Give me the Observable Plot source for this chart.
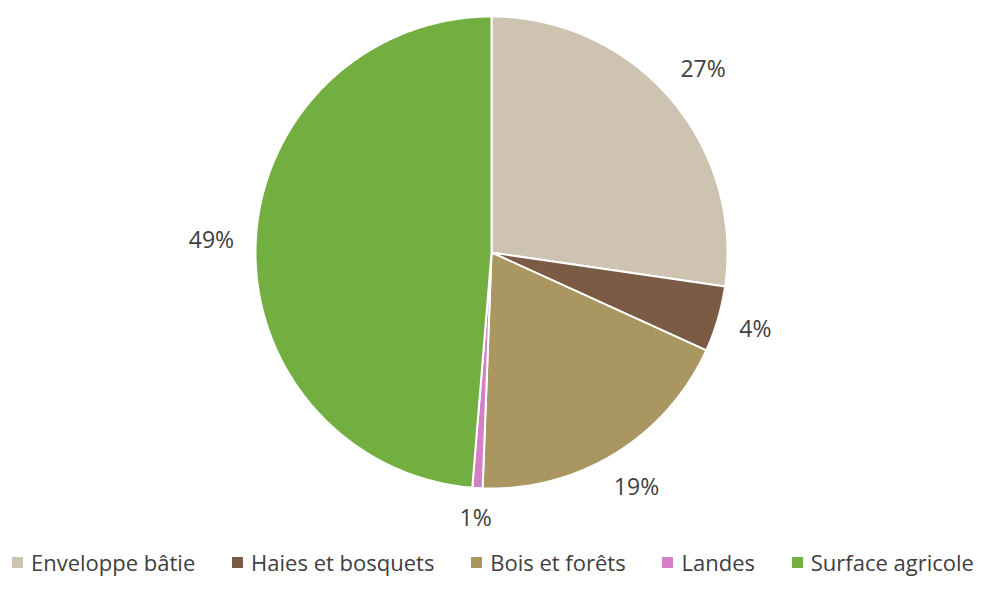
<!DOCTYPE html>
<html>
<head>
<meta charset="utf-8">
<script src="https://cdn.jsdelivr.net/npm/d3@7"></script>
<script src="https://cdn.jsdelivr.net/npm/@observablehq/plot@0.6"></script>
<style>
  html, body { margin: 0; padding: 0; background: #fff; }
  body { width: 982px; height: 589px; position: relative; overflow: hidden; font-family: "Open Sans", sans-serif; }
  #chart { position: absolute; left: 0; top: 0; }
  #legend { position: absolute; left: 12px; width: 962px; top: 546px; height: 32px; display: flex; justify-content: space-between; align-items: center; color: #404040; font-size: 22px; white-space: nowrap; }
  .item { display: flex; align-items: center; }
  .sw { width: 11px; height: 11px; margin-right: 8px; }
</style>
</head>
<body>
<div id="chart"></div>
<div id="legend"></div>
<script>
const categories = ["Enveloppe bâtie", "Haies et bosquets", "Bois et forêts", "Landes", "Surface agricole"];
const values = [27.3, 4.5, 18.8, 0.7, 48.7];
const labels = ["27%", "4%", "19%", "1%", "49%"];
const colors = ["#cdc3b0", "#7b5b45", "#a99660", "#d47fc6", "#72ae40"];

const W = 982, H = 545;
const cx = 491, cy = 252, R = 236;
const labelFont = 23, labelGap = 21;

const total = d3.sum(values);
let acc = 0;
const slices = categories.map((c, i) => {
  const a0 = acc / total * 2 * Math.PI;
  acc += values[i];
  const a1 = acc / total * 2 * Math.PI;
  const n = Math.max(2, Math.ceil((a1 - a0) / (Math.PI / 360)));
  const ring = [[cx, cy]];
  for (let k = 0; k <= n; k++) {
    const a = a0 + (a1 - a0) * k / n;
    ring.push([cx + R * Math.sin(a), cy - R * Math.cos(a)]);
  }
  ring.push([cx, cy]);
  const am = (a0 + a1) / 2;
  const ux = Math.sin(am), uy = -Math.cos(am);
  const hw = (labels[i].length - 1) * 0.572 * labelFont / 2 + 0.855 * labelFont / 2;
  const hh = 0.36 * labelFont;
  const dist = R + labelGap + hw * Math.abs(ux) + hh * Math.abs(uy);
  return {
    type: "Feature",
    properties: {name: c, color: colors[i], label: labels[i],
      lx: cx + dist * ux, ly: cy + dist * uy},
    geometry: {type: "Polygon", coordinates: [ring]}
  };
});

const frame = {type: "MultiPoint", coordinates: [[0, 0], [W, H]]};

const plot = Plot.plot({
  width: W,
  height: H,
  margin: 0,
  projection: {type: "identity", domain: frame},
  marks: [
    Plot.geo(slices, {fill: d => d.properties.color, stroke: "white", strokeWidth: 2}),
    Plot.text(slices, {
      x: d => d.properties.lx, y: d => d.properties.ly,
      text: d => d.properties.label,
      fontSize: labelFont, fill: "#404040", fontFamily: "Open Sans"
    })
  ]
});
document.getElementById("chart").appendChild(plot);

const legend = document.getElementById("legend");
categories.forEach((c, i) => {
  const it = document.createElement("div");
  it.className = "item";
  it.innerHTML = `<span class="sw" style="background:${colors[i]}"></span><span>${c}</span>`;
  legend.appendChild(it);
});
</script>
</body>
</html>
